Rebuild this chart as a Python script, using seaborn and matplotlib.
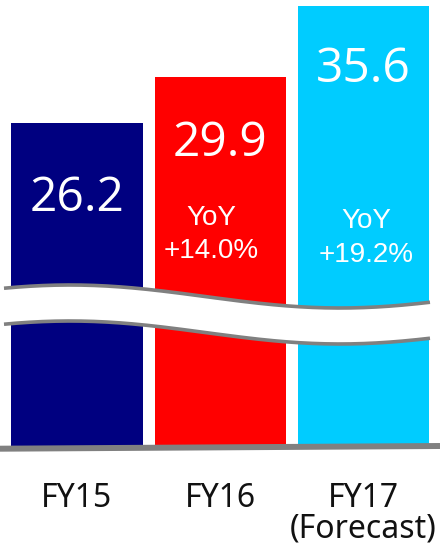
import numpy as np
import matplotlib
matplotlib.use("Agg")
import matplotlib.pyplot as plt
import seaborn as sns
from matplotlib.lines import Line2D
from matplotlib.patches import Polygon

# ---- data ----
categories = ["FY15", "FY16", "FY17"]
cat_labels = ["FY15", "FY16", "FY17"]
cat_sublabels = ["", "", "(Forecast)"]
values = [26.2, 29.9, 35.6]
value_labels = ["26.2", "29.9", "35.6"]
yoy_titles = ["", "YoY", "YoY"]
yoy_labels = ["", "+14.0%", "+19.2%"]
colors = ["#000080", "#FF0000", "#00CCFF"]

# ---- layout (pixels) ----
W, H = 440, 555
base_px = 449.0
px_per_unit = 12.44
slot_px = 143.0
first_center_px = 77.0

sns.set_theme(style="white")
plt.rcParams["font.family"] = ["Noto Sans", "DejaVu Sans"]

fig = plt.figure(figsize=(W / 100, H / 100), dpi=100)
fig.patch.set_facecolor("white")
ax = fig.add_axes([0, (H - base_px) / H, 1, base_px / H])

sns.barplot(x=categories, y=values, hue=categories, palette=colors,
            saturation=1, width=131 / slot_px, legend=False, ax=ax,
            linewidth=0, zorder=1)
ax.set_xlim(-first_center_px / slot_px, (W - first_center_px) / slot_px)
ax.set_ylim(0, base_px / px_per_unit)
ax.axis("off")


def ydata(py):
    return (base_px - py) / px_per_unit


def xoff(px):
    return px / slot_px


# value labels (baseline pixel positions)
val_base = [211, 156, 82]
for i, lab in enumerate(value_labels):
    ax.text(i, ydata(val_base[i]), lab, ha="center", va="baseline",
            color="white", fontsize=34.5, fontweight="normal",
            family=["Open Sans", "Noto Sans", "DejaVu Sans"], zorder=5)

# YoY labels
yoy_dx = [0, -9, 3]
yoy_t_base = [0, 225, 228]
yoy_v_base = [0, 258, 262]
for i in range(len(categories)):
    if yoy_titles[i]:
        ax.text(i + xoff(yoy_dx[i]), ydata(yoy_t_base[i]), yoy_titles[i],
                ha="center", va="baseline", color="white", fontsize=20,
                family=["Liberation Sans", "DejaVu Sans"], zorder=5)
        ax.text(i + xoff(yoy_dx[i]), ydata(yoy_v_base[i]), yoy_labels[i],
                ha="center", va="baseline", color="white", fontsize=20,
                family=["Liberation Sans", "DejaVu Sans"], zorder=5)

# category labels
for i in range(len(categories)):
    ax.text(i, ydata(507), cat_labels[i], ha="center", va="baseline",
            color="#111111", fontsize=23, clip_on=False)
    if cat_sublabels[i]:
        ax.text(i, ydata(538), cat_sublabels[i], ha="center", va="baseline",
                color="#111111", fontsize=23, clip_on=False)

# ---- decorative break (in pixel space) ----
pix = fig.dpi_scale_trans  # inches


def to_in(xp, yp):
    return np.column_stack([np.asarray(xp) / 100.0, (H - np.asarray(yp)) / 100.0])


xs = np.linspace(4, 430, 200)
wave_top = 296.5 - 11.5 * np.cos(2 * np.pi * (xs - 70) / 540)
wave_bot = wave_top + 36
band = np.concatenate([to_in(xs, wave_top), to_in(xs[::-1], wave_bot[::-1])])
fig.patches.append(Polygon(band, closed=True, facecolor="white", edgecolor="none",
                           transform=pix, zorder=10))
for wy in (wave_top, wave_bot):
    pts = to_in(xs, wy)
    fig.lines.append(Line2D(pts[:, 0], pts[:, 1], color="#808080", lw=2.6,
                            transform=pix, zorder=11, solid_capstyle="butt"))

# baseline
bl = to_in([0, 440], [448.7, 446.0])
fig.lines.append(Line2D(bl[:, 0], bl[:, 1], color="#808080", lw=4.3,
                        transform=pix, zorder=11, solid_capstyle="butt"))

fig.savefig("out.png", dpi=100)
